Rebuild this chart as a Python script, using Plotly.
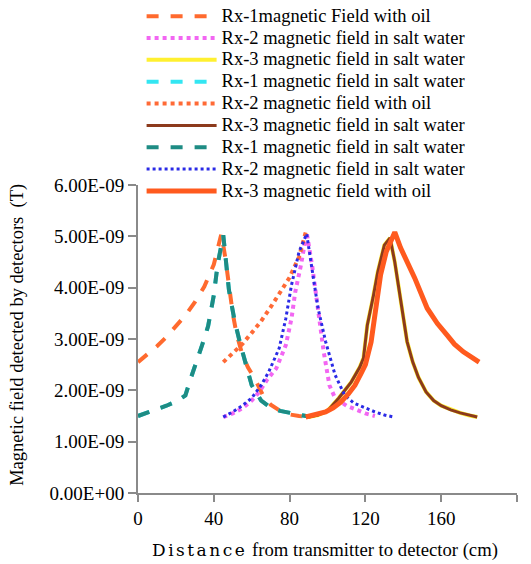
import plotly.graph_objects as go

# ---- data (y in units of 1e-9 T) ----
rx1_oil_x = [0, 5, 10, 15, 20, 25, 30, 35, 40, 44, 46, 48, 50, 52, 55, 58, 62, 66, 70, 75, 80, 85, 90]
rx1_oil_y = [2.55, 2.70, 2.86, 3.04, 3.24, 3.46, 3.72, 4.02, 4.45, 5.05, 4.6, 4.0, 3.5, 3.1, 2.7, 2.45, 2.2, 1.9, 1.72, 1.6, 1.53, 1.5, 1.48]

rx1_salt_x = [0, 5, 10, 15, 20, 25, 28, 31, 34, 37, 40, 42, 45, 48, 51, 54, 57, 60, 65, 70, 75, 80, 85, 90]
rx1_salt_y = [1.5, 1.56, 1.63, 1.7, 1.78, 1.9, 2.25, 2.55, 2.9, 3.25, 3.85, 4.45, 5.02, 3.95, 3.35, 2.9, 2.5, 2.1, 1.8, 1.66, 1.6, 1.56, 1.52, 1.49]

rx2_oil_x = [45, 50, 55, 60, 65, 70, 75, 80, 85, 88.5]
rx2_oil_y = [2.55, 2.72, 2.9, 3.12, 3.35, 3.62, 3.9, 4.2, 4.6, 5.08]

rx2_salt_a_x = [45, 50, 55, 60, 64, 68, 73, 78, 81, 83, 86, 89, 92, 95, 98, 101, 104, 110, 115, 120, 125]
rx2_salt_a_y = [1.48, 1.55, 1.65, 1.8, 1.97, 2.2, 2.43, 2.88, 3.4, 3.92, 4.44, 5.08, 4.4, 3.6, 2.75, 2.1, 1.85, 1.7, 1.62, 1.55, 1.5]

rx2_salt_b_x = [45, 50, 55, 60, 65, 69, 74.5, 78, 81, 85, 89, 90, 92.5, 95, 99, 104, 109, 114, 120, 125, 130, 135]
rx2_salt_b_y = [1.48, 1.58, 1.7, 1.85, 2.1, 2.36, 2.82, 3.4, 4.05, 4.7, 5.05, 4.78, 4.2, 3.6, 2.95, 2.3, 1.91, 1.75, 1.65, 1.58, 1.52, 1.48]

rx3_salt_x = [90, 95, 100, 106, 112.5, 117, 119, 121, 124, 126.5, 130, 133, 135.5, 138, 140, 142, 145, 148, 152, 156, 160, 165, 170, 175, 179]
rx3_salt_y = [1.48, 1.52, 1.6, 1.85, 2.16, 2.45, 2.63, 3.27, 3.8, 4.3, 4.83, 4.97, 4.5, 3.9, 3.35, 2.95, 2.55, 2.25, 1.97, 1.8, 1.7, 1.62, 1.56, 1.51, 1.48]

rx3_oil_x = [88.5, 94, 99, 103, 107, 111, 114.5, 118, 120, 123, 125.5, 128, 131, 135.5, 138.5, 142, 146, 152.6, 158, 163, 167, 171.7, 176, 180]
rx3_oil_y = [1.48, 1.52, 1.58, 1.66, 1.77, 1.93, 2.1, 2.35, 2.5, 2.94, 3.6, 4.25, 4.7, 5.08, 4.78, 4.5, 4.19, 3.6, 3.3, 3.08, 2.9, 2.75, 2.65, 2.55]

x_ticks = [0, 40, 80, 120, 160, 200]
y_tick_vals = [0, 1, 2, 3, 4, 5, 6]
y_tick_text = ["0.00E+00", "1.00E-09", "2.00E-09", "3.00E-09", "4.00E-09", "5.00E-09", "6.00E-09"]

names = [
    "Rx-1magnetic Field with oil",
    "Rx-2 magnetic field in salt water",
    "Rx-3 magnetic field in salt water",
    "Rx-1 magnetic field in salt water",
    "Rx-2 magnetic field with oil",
    "Rx-3 magnetic field in salt water",
    "Rx-1 magnetic field in salt water",
    "Rx-2 magnetic field in salt water",
    "Rx-3 magnetic field with oil",
]

series = [
    (rx1_oil_x, rx1_oil_y, "#FF6A2E", "dash", 4),
    (rx2_salt_a_x, rx2_salt_a_y, "#F266F2", "dot", 4),
    (rx3_salt_x, rx3_salt_y, "#FFF030", "solid", 4),
    (rx1_salt_x, rx1_salt_y, "#33E6F2", "dash", 4),
    (rx2_oil_x, rx2_oil_y, "#FF6A36", "dot", 4),
    (rx3_salt_x, rx3_salt_y, "#8C3A1C", "solid", 3),
    (rx1_salt_x, rx1_salt_y, "#1E8C84", "dash", 4),
    (rx2_salt_b_x, rx2_salt_b_y, "#2A2AE6", "dot", 3),
    (rx3_oil_x, rx3_oil_y, "#FF5A1E", "solid", 5),
]

SCALE = 1e-9
fig = go.Figure()
for (xs, ys, col, dash, w), nm in zip(series, names):
    fig.add_trace(go.Scatter(
        x=xs, y=[v * SCALE for v in ys], mode="lines",
        name=f"<span style='font-size:18.5px'>{nm}</span>",
        line=dict(color=col, dash=dash, width=w),
    ))

serif = "Liberation Serif, Times New Roman, serif"
fig.update_layout(
    width=531, height=564,
    margin=dict(l=138, r=14, t=185, b=71, autoexpand=False),
    paper_bgcolor="white", plot_bgcolor="white",
    font=dict(family=serif, size=15, color="black"),
    showlegend=True,
    legend=dict(
        x=0.0095, y=1.6, xanchor="left", yanchor="top",
        traceorder="normal",
        font=dict(family=serif, size=14.5, color="black"),
        bgcolor="rgba(0,0,0,0)", itemwidth=70,
    ),
    xaxis=dict(
        range=[0, 200], tickvals=x_ticks, ticktext=[str(t) for t in x_ticks],
        showgrid=False, zeroline=False, showline=True, linecolor="#8a8a8a", linewidth=2,
        ticks="outside", ticklen=7, tickcolor="#8a8a8a", tickwidth=2,
        ticklabelstandoff=0, tickfont=dict(size=19),
    ),
    yaxis=dict(
        range=[0, 6 * SCALE], tickvals=[v * SCALE for v in y_tick_vals], ticktext=y_tick_text,
        showgrid=False, zeroline=False, showline=True, linecolor="#8a8a8a", linewidth=2,
        ticks="outside", ticklen=8, tickcolor="#8a8a8a", tickwidth=2,
        tickfont=dict(size=19),
    ),
    annotations=[
        dict(text="Magnetic field detected by detectors  (T)", textangle=-90,
             xref="paper", yref="paper", x=-0.317, y=0.513, xanchor="center", yanchor="middle",
             showarrow=False, font=dict(family=serif, size=18.5, color="black")),
        dict(text="<span style='font-family:DejaVu Serif;font-size:17px;letter-spacing:2.5px'>Distance</span> from transmitter to detector (cm)",
             xref="paper", yref="paper", x=0.494, y=-0.185, xanchor="center", yanchor="middle",
             showarrow=False, font=dict(family=serif, size=18.7, color="black")),
    ],
)

fig.write_html("out.html")
